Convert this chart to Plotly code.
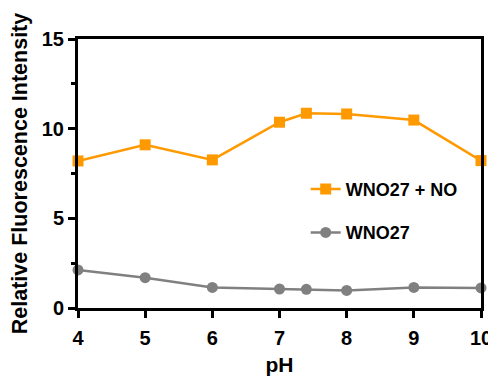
import plotly.graph_objects as go

ph = [4, 5, 6, 7, 7.4, 8, 9, 10]
wno27_no = [8.2, 9.1, 8.26, 10.36, 10.86, 10.82, 10.48, 8.22]
wno27 = [2.12, 1.69, 1.15, 1.06, 1.04, 0.98, 1.15, 1.12]

x_ticks = [4, 5, 6, 7, 8, 9, 10]
y_ticks = [0, 5, 10, 15]

font_family = "Liberation Sans, Arial, sans-serif"

fig = go.Figure()
fig.add_trace(go.Scatter(
    x=ph, y=wno27_no, name="<b>WNO27 + NO</b>", mode="lines+markers",
    line=dict(color="#FF9900", width=2.5),
    marker=dict(symbol="square", size=11, color="#FF9900"),
    cliponaxis=False, legendgroup="a"))
fig.add_trace(go.Scatter(
    x=ph, y=wno27, name="<b>WNO27</b>", mode="lines+markers",
    line=dict(color="#808080", width=2.5),
    marker=dict(symbol="circle", size=11, color="#808080"),
    cliponaxis=False, legendgroup="b"))

fig.update_layout(
    width=488, height=368,
    margin=dict(l=70, r=15, t=31, b=68),
    paper_bgcolor="white", plot_bgcolor="white",
    font=dict(family=font_family, color="black", size=19),
    legend=dict(x=0.565, y=0.51, xanchor="left", yanchor="top",
                bgcolor="rgba(0,0,0,0)", font=dict(size=18, color="black"),
                traceorder="grouped", tracegroupgap=17, itemwidth=30),
    showlegend=True,
)
fig.update_xaxes(
    range=[4, 10], tickvals=x_ticks, ticktext=[f"<b>{v}</b>" for v in x_ticks],
    showgrid=False, zeroline=False, automargin=False,
    showline=True, linewidth=3, linecolor="black", mirror=True,
    ticks="outside", ticklen=7, tickwidth=2.5, tickcolor="black",
    tickfont=dict(size=20), ticklabelstandoff=3,
    title=dict(text="<b>pH</b>", font=dict(size=21)),
)
fig.update_yaxes(
    range=[0, 15], tickvals=y_ticks, ticktext=[f"<b>{v}</b>" for v in y_ticks],
    showgrid=False, zeroline=False, automargin=False,
    showline=True, linewidth=3, linecolor="black", mirror=True,
    ticks="outside", ticklen=7, tickwidth=2.5, tickcolor="black",
    tickfont=dict(size=20),
    minor=dict(tickvals=[2.5, 7.5, 12.5], ticks="outside", ticklen=4,
               tickwidth=2.5, tickcolor="black"),
    title=dict(text="<b>Relative Fluorescence Intensity</b>", font=dict(size=21.5)),
)

fig.write_html("out.html")
